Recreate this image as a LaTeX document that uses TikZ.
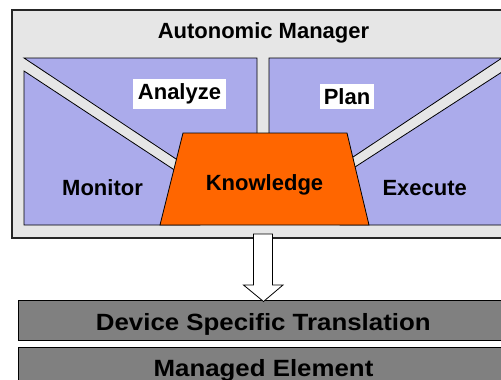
\documentclass[tikz,border=0pt]{standalone}
\usepackage{fontspec}
\setmainfont{Liberation Sans}
\usetikzlibrary{calc}
\definecolor{mgrgray}{RGB}{230,230,230}
\definecolor{loopblue}{RGB}{171,171,235}
\definecolor{knoworange}{RGB}{255,102,0}
\definecolor{bargray}{RGB}{128,128,128}
\tikzset{
  panel/.style={fill=loopblue,draw=black,line width=0.8pt},
  lbl/.style={font=\bfseries\fontsize{22}{26}\selectfont,inner sep=0pt,anchor=base},
  whitebox/.style={fill=white,inner sep=0pt,anchor=center},
  barlbl/.style={font=\bfseries\fontsize{23.5}{27}\selectfont,inner sep=0pt,anchor=base,xscale=1.1},
}
\begin{document}
\begin{tikzpicture}[x=1pt,y=-1pt]
\useasboundingbox (0,0) rectangle (501,380);
\draw[fill=mgrgray,draw=black!85,line width=1.2pt] (12,10) rectangle (505,238);
\node[lbl] (title) at (263.5,38.5) {Autonomic Manager};
% the four phases
\draw[panel] (24,58) -- (257,58) -- (257,170) -- (200,174.9) -- cycle;
\draw[panel] (24,71) -- (200,186.8) -- (200,225) -- (24,225) -- cycle;
\draw[panel] (269,58) -- (502,58) -- (330,172.3) -- (269,172) -- cycle;
\draw[panel] (502,72) -- (502,225) -- (340,225) -- (340,176.7) -- cycle;
% knowledge in the middle
\draw[fill=knoworange,draw=black,line width=0.8pt] (183,133) -- (347,133) -- (369,225) -- (160,225) -- cycle;
\node[lbl,whitebox,minimum width=93,minimum height=30] (analyze) at (179.5,94) {Analyze};
\node[lbl,whitebox,minimum width=54,minimum height=25] (plan) at (347,96.5) {Plan};
\node[lbl] (monitor) at (102.5,195) {Monitor};
\node[lbl] (know) at (264.5,190) {Knowledge};
\node[lbl] (execute) at (424.7,195) {Execute};
% lower layers
\draw[fill=bargray,draw=black,line width=1pt] (18,300) rectangle (506,340);
\draw[fill=bargray,draw=black,line width=1pt] (18,347) rectangle (506,390);
\node[barlbl] (dst) at (263.3,330) {Device Specific Translation};
\node[barlbl] (me) at (263.5,376.7) {Managed Element};
% hollow arrow down
\coordinate (arrtop) at (263,234);
\coordinate (arrtip) at (263.5,301.5);
\draw[fill=white,line width=0.8pt] ($(arrtop)+(-9.5,0)$) -- ($(arrtop)+(9.5,0)$) -- ($(arrtop)+(9.5,51)$)
  -- ($(arrtop)+(20,51)$) -- (arrtip) -- ($(arrtop)+(-19.5,51)$) -- ($(arrtop)+(-9.5,51)$) -- cycle;
\end{tikzpicture}
\end{document}
